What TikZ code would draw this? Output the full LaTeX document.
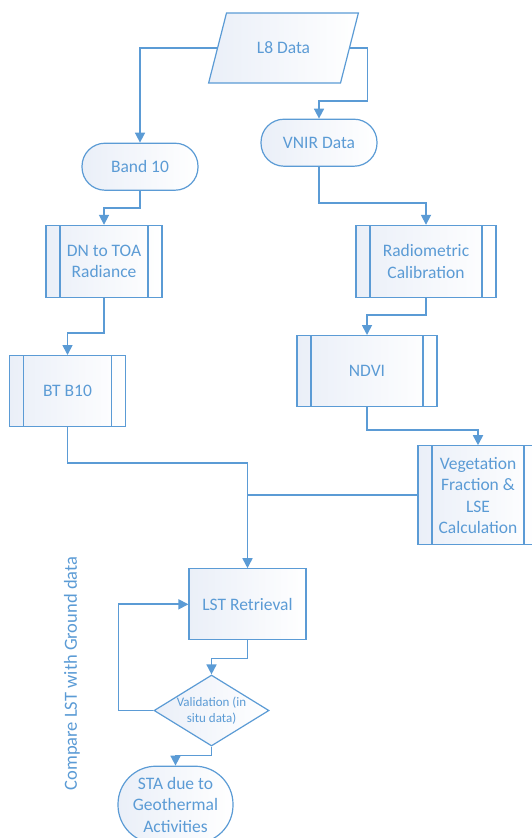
\documentclass[tikz,border=0pt]{standalone}
\usepackage{fontspec}
\setmainfont{Carlito}
\usepackage{tikz}
\usetikzlibrary{shapes.geometric, arrows.meta, positioning}
\definecolor{lineblue}{HTML}{5B9BD5}
\definecolor{textblue}{HTML}{5B9BD5}
\definecolor{fillblue}{HTML}{EAEFF8}
\tikzstyle{iobox} = [trapezium, trapezium left angle=63.4, trapezium right angle=116.6, trapezium stretches=true,
  minimum width=150pt, minimum height=70pt, draw=lineblue, left color=fillblue, right color=white,
  text=textblue, font=\fontsize{17.5}{21.5}\selectfont, line width=1.2pt]
\tikzstyle{termbox} = [rectangle, rounded corners=23pt, minimum width=116pt, minimum height=47pt,
  draw=lineblue, left color=fillblue, right color=white, text=textblue, font=\fontsize{17.5}{21.5}\selectfont, line width=1.2pt]
\tikzstyle{subbox} = [rectangle, minimum width=116pt, minimum height=72pt, align=center, inner sep=0pt,
  draw=lineblue, left color=fillblue, right color=white, text=textblue, font=\fontsize{17.5}{21.5}\selectfont, line width=1.2pt,
  path picture={\draw[lineblue, line width=1.2pt]
    ([xshift=14pt]path picture bounding box.north west) -- ([xshift=14pt]path picture bounding box.south west)
    ([xshift=-14pt]path picture bounding box.north east) -- ([xshift=-14pt]path picture bounding box.south east);}]
\tikzstyle{procbox} = [rectangle, minimum width=117pt, minimum height=71pt,
  draw=lineblue, left color=fillblue, right color=white, text=textblue, font=\fontsize{17.5}{21.5}\selectfont, line width=1.2pt]
\tikzstyle{decbox} = [diamond, aspect=1.62, minimum width=115pt, minimum height=71pt, inner sep=0pt, align=center,
  draw=lineblue, left color=fillblue, right color=white, text=textblue, font=\fontsize{13}{16.5}\selectfont, line width=1.2pt]
\tikzstyle{endbox} = [rectangle, rounded corners=38pt, minimum width=115pt, minimum height=77pt, align=center,
  draw=lineblue, left color=fillblue, right color=white, text=textblue, font=\fontsize{17.5}{21.5}\selectfont, line width=1.2pt]
\tikzstyle{arrow} = [-{Triangle[width=10pt,length=10pt]}, draw=lineblue, line width=1.7pt]
\tikzstyle{line} = [draw=lineblue, line width=1.7pt]

\begin{document}
\begin{tikzpicture}[node distance=36pt]
  \useasboundingbox (0,0) rectangle (532pt,-838pt);
  \node (l8)  [iobox] at (283.5pt,-48pt) {L8 Data};
  \node (band)[termbox, below=59pt of l8, xshift=-143.5pt] {Band 10};
  \node (vnir)[termbox, below=35pt of l8, xshift=35.5pt] {VNIR Data};
  \node (dn)  [subbox, below=34pt of band, xshift=-36pt] {DN to TOA\\Radiance};
  \node (rad) [subbox, below=58pt of vnir, xshift=107pt, minimum width=140pt] {Radiometric\\Calibration};
  \node (bt)  [subbox, below=57pt of dn, xshift=-36.5pt, minimum height=71pt] {BT B10};
  \node (ndvi)[subbox, below=37pt of rad, xshift=-59pt, minimum width=140pt, minimum height=71pt] {NDVI};
  \node (veg) [subbox, below=38pt of ndvi, xshift=111pt, minimum width=120pt, minimum height=99pt] {Vegetation\\Fraction \&\\LSE\\Calculation};
  \node (lst) [procbox, below=141pt of bt, xshift=180pt] {LST Retrieval};
  \node (val) [decbox, below=34pt of lst, xshift=-36pt] {Validation (in\\situ data)};
  \node (sta) [endbox, below=19pt of val, xshift=-36pt] {STA due to\\Geothermal\\Activities};
  \node (cmp) [text=textblue, font=\fontsize{18.5}{22}\selectfont, rotate=90] at (72pt,-673.5pt) {Compare LST with Ground data};

  \draw[arrow] (l8.west) -| (band.north);
  \draw[arrow] (l8.east) -- ++(17.5pt,0) -- ++(0,-53pt) -| (vnir.north);
  \draw[arrow] (band.south) -- ++(0,-17.5pt) -| (dn.north);
  \draw[arrow] (vnir.south) -- ++(0,-36pt) -| (rad.north);
  \draw[arrow] (dn.south) -- ++(0,-35pt) -| (bt.north);
  \draw[arrow] (rad.south) -- ++(0,-17pt) -| (ndvi.north);
  \draw[arrow] (ndvi.south) -- ++(0,-23pt) -| (veg.north);
  \draw[arrow] (bt.south) -- ++(0,-36pt) -| (lst.north);
  \draw[line] (veg.west) -- (veg.west -| lst.north);
  \draw[arrow] (lst.south) -- ++(0,-18pt) -| (val.north);
  \draw[arrow] (val.south) -- ++(0,-9pt) -| (sta.north);
  \draw[arrow] (val.west) -- ++(-35pt,0) |- (lst.west);
\end{tikzpicture}
\end{document}
